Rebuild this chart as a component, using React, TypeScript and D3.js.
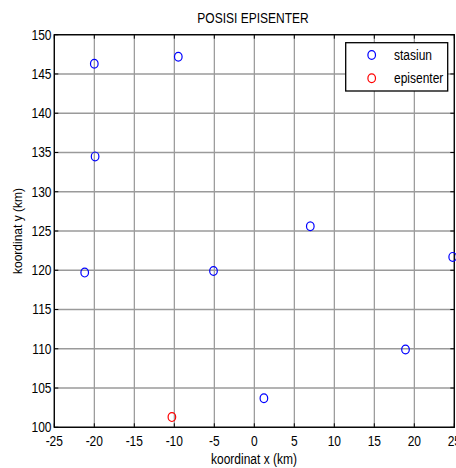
import React from "react";
import * as d3 from "d3";

const stasiunX = [-20.0, -9.5, -19.9, -21.2, -5.1, 7.0, 24.8, 18.9, 1.2];
const stasiunY = [146.3, 147.2, 134.5, 119.7, 119.9, 125.6, 121.7, 109.9, 103.7];
const episenterX = [-10.3];
const episenterY = [101.3];
const xTicks = [-25, -20, -15, -10, -5, 0, 5, 10, 15, 20, 25];
const yTicks = [100, 105, 110, 115, 120, 125, 130, 135, 140, 145, 150];
const legendLabels = ["stasiun", "episenter"];
const legendColors = ["#0000ff", "#ff0000"];

const W = 456;
const H = 468;
const L = 54.3;
const R = 454.3;
const T = 34.7;
const B = 427.3;
const FONT = "'Liberation Sans', Arial, sans-serif";
const SY = 1.15;

function Txt(props: { x: number; y: number; anchor?: string; size?: number; rotate?: number; children: React.ReactNode; sy?: number }) {
  const { x, y, anchor = "middle", size = 12, rotate = 0, children, sy = SY } = props;
  const tf = rotate ? `translate(${x},${y}) rotate(${rotate}) scale(1,${sy})` : `translate(${x},${y}) scale(1,${sy})`;
  return (
    <text transform={tf} textAnchor={anchor} fontSize={size} fontFamily={FONT} fill="#000">
      {children}
    </text>
  );
}

export default function App() {
  const x = d3.scaleLinear().domain([-25, 25]).range([L, R]);
  const y = d3.scaleLinear().domain([100, 150]).range([B, T]);
  const tick = 4;
  return (
    <svg width={W} height={H} style={{ position: "absolute", left: 0, top: 0, background: "#fff" }}>
      <rect x={0} y={0} width={W} height={H} fill="#fff" />
      {xTicks.map((t) => (
        <line key={"gx" + t} x1={x(t)} x2={x(t)} y1={T} y2={B} stroke="#8c8c8c" strokeWidth={1.1} />
      ))}
      {yTicks.map((t) => (
        <line key={"gy" + t} x1={L} x2={R} y1={y(t)} y2={y(t)} stroke="#9a9a9a" strokeWidth={1.4} />
      ))}
      {xTicks.map((t) => (
        <g key={"tx" + t}>
          <line x1={x(t)} x2={x(t)} y1={B} y2={B - tick} stroke="#000" strokeWidth={1} />
          <line x1={x(t)} x2={x(t)} y1={T} y2={T + tick} stroke="#000" strokeWidth={1} />
          <Txt x={x(t)} y={445.5}>{String(t)}</Txt>
        </g>
      ))}
      {yTicks.map((t) => (
        <g key={"ty" + t}>
          <line x1={L} x2={L + tick} y1={y(t)} y2={y(t)} stroke="#000" strokeWidth={1} />
          <line x1={R} x2={R - tick} y1={y(t)} y2={y(t)} stroke="#000" strokeWidth={1} />
          <Txt x={51.5} y={y(t) + 4.8} anchor="end">{String(t)}</Txt>
        </g>
      ))}
      <rect x={L} y={T} width={R - L} height={B - T} fill="none" stroke="#000" strokeWidth={1.3} />
      {stasiunX.map((v, i) => (
        <ellipse key={"s" + i} cx={x(v)} cy={y(stasiunY[i])} rx={3.8} ry={4.4} fill="none" stroke={legendColors[0]} strokeWidth={1.2} />
      ))}
      {episenterX.map((v, i) => (
        <ellipse key={"e" + i} cx={x(v)} cy={y(episenterY[i])} rx={3.8} ry={4.4} fill="none" stroke={legendColors[1]} strokeWidth={1.2} />
      ))}
      <Txt x={253} y={23}>POSISI EPISENTER</Txt>
      <Txt x={254} y={464}>koordinat x (km)</Txt>
      <Txt x={22} y={231} rotate={-90} sy={1}>koordinat y (km)</Txt>
      <rect x={345.7} y={42.7} width={102} height={48.3} fill="#fff" stroke="#000" strokeWidth={1.3} />
      {legendLabels.map((lab, i) => (
        <g key={lab}>
          <ellipse cx={371.7} cy={55 + i * 23.3} rx={3.8} ry={4.4} fill="none" stroke={legendColors[i]} strokeWidth={1.2} />
          <Txt x={394} y={59.5 + i * 23.3} anchor="start">{lab}</Txt>
        </g>
      ))}
    </svg>
  );
}
